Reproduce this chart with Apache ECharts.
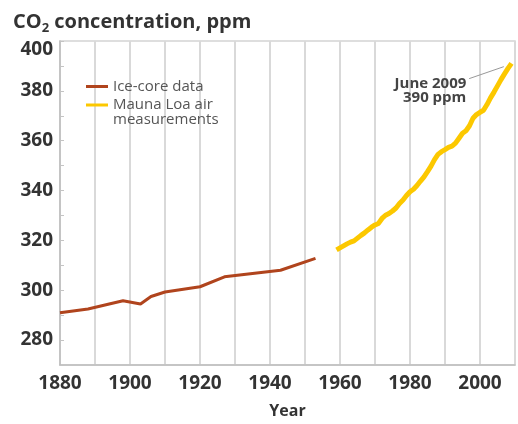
<!DOCTYPE html>
<html>
<head>
<meta charset="utf-8">
<script src="https://cdn.jsdelivr.net/npm/echarts@6/dist/echarts.min.js"></script>
<style>
  html, body { margin: 0; padding: 0; background: #fff; }
  #main { width: 518px; height: 424px; }
</style>
</head>
<body>
<div id="main"></div>
<script>
// ice-core record (year, ppm)
var iceYears = [1880, 1888, 1898, 1903, 1906, 1910, 1920, 1927, 1943, 1953];
var iceValues = [291.0, 292.5, 295.8, 294.5, 297.5, 299.3, 301.4, 305.4, 308.0, 312.8];

// Mauna Loa annual means
var mlYears = [1959, 1960, 1961, 1962, 1963, 1964, 1965, 1966, 1967, 1968,
  1969, 1970, 1971, 1972, 1973, 1974, 1975, 1976, 1977, 1978,
  1979, 1980, 1981, 1982, 1983, 1984, 1985, 1986, 1987, 1988,
  1989, 1990, 1991, 1992, 1993, 1994, 1995, 1996, 1997, 1998,
  1999, 2000, 2001, 2002, 2003, 2004, 2005, 2006, 2007, 2008, 2009];
var mlValues = [316.2, 317.0, 317.8, 318.6, 319.3, 319.8, 320.9, 322.0, 323.0, 324.2,
  325.3, 326.2, 326.8, 328.8, 330.1, 330.8, 331.8, 333.0, 334.8, 336.2,
  338.0, 339.5, 340.5, 342.0, 343.8, 345.5, 347.6, 349.8, 352.4, 354.5,
  355.6, 356.4, 357.3, 357.8, 359.0, 361.0, 363.0, 364.0, 366.0, 369.0,
  370.5, 371.4, 372.2, 374.5, 377.2, 379.5, 382.0, 384.5, 386.8, 389.0, 391.0];

var xTicks = [1880, 1900, 1920, 1940, 1960, 1980, 2000];
var yTicks = [280, 300, 320, 340, 360, 380, 400];

// callout leader line ends (year, ppm)
var calloutFrom = [1996.9, 384.9];
var calloutTo = [2006.8, 389.7];

function pairs(xs, ys) {
  return xs.map(function (x, i) { return [x, ys[i]]; });
}

var myChart = echarts.init(document.getElementById('main'));
var font = '"Open Sans", sans-serif';

var option = {
  animation: false,
  backgroundColor: '#fff',
  textStyle: { fontFamily: font },
  title: {
    left: 8,
    top: 4,
    text: '{a|CO}{s|2}{a| concentration, ppm}',
    textStyle: {
      rich: {
        a: { fontFamily: font, fontSize: 20, fontWeight: 'bold', color: '#333' },
        s: { fontFamily: font, fontSize: 13, fontWeight: 'bold', color: '#333', padding: [13, 0, 0, 0] }
      }
    }
  },
  legend: {
    orient: 'vertical',
    left: 86,
    top: 79,
    padding: 0,
    itemWidth: 22,
    itemHeight: 3,
    itemGap: -4,
    icon: 'rect',
    textStyle: {
      fontFamily: font, fontSize: 15, color: '#555', lineHeight: 15,
      rich: {
        m: { fontFamily: font, fontSize: 15, color: '#555', lineHeight: 29 },
        n: { fontFamily: font, fontSize: 15, color: '#555', lineHeight: 1 }
      }
    },
    formatter: function (name) {
      return name === 'Mauna Loa air measurements' ? '{m|Mauna Loa air}\n{n|measurements}' : name;
    },
    data: ['Ice-core data', 'Mauna Loa air measurements']
  },
  grid: {
    left: 60,
    top: 41,
    width: 461,
    height: 329,
    show: true,
    borderColor: '#d4d4d4',
    borderWidth: 1.5
  },
  xAxis: {
    type: 'value',
    min: 1880,
    max: 2010,
    interval: 10,
    name: 'Year',
    nameLocation: 'middle',
    nameGap: 38,
    nameTextStyle: { fontFamily: font, fontSize: 16, fontWeight: 'bold', color: '#333' },
    axisLine: { lineStyle: { color: '#bdbdbd', width: 1.5 } },
    axisTick: { show: false },
    axisLabel: {
      margin: 9,
      fontFamily: font, fontSize: 19, fontWeight: 'bold', color: '#333',
      formatter: function (v) { return xTicks.indexOf(v) >= 0 ? String(v) : ''; }
    },
    splitLine: { show: true, lineStyle: { color: '#d9d9d9', width: 2 } }
  },
  yAxis: {
    type: 'value',
    min: 270,
    max: 400,
    interval: 10,
    axisLine: { show: true, lineStyle: { color: '#bdbdbd', width: 1.5 } },
    axisTick: { show: true, inside: true, length: 4, lineStyle: { color: '#c4c4c4' } },
    axisLabel: {
      margin: 7,
      fontFamily: font, fontSize: 19, fontWeight: 'bold', color: '#333',
      formatter: function (v) {
        if (v === 400) return '{top|400}';
        return yTicks.indexOf(v) >= 0 ? String(v) : '';
      },
      rich: {
        top: { fontFamily: font, fontSize: 19, fontWeight: 'bold', color: '#333', padding: [18, 0, 0, 0] }
      }
    },
    splitLine: { show: false }
  },
  series: [
    {
      name: 'Ice-core data',
      type: 'line',
      symbol: 'none',
      color: '#b0441d',
      lineStyle: { width: 3, color: '#b0441d' },
      data: pairs(iceYears, iceValues)
    },
    {
      name: 'Mauna Loa air measurements',
      type: 'line',
      symbol: 'none',
      color: '#fcc800',
      lineStyle: { width: 5, color: '#fcc800' },
      data: pairs(mlYears, mlValues),
      markLine: {
        silent: true,
        symbol: 'none',
        lineStyle: { color: '#999', width: 1, type: 'solid' },
        label: {
          show: true,
          position: 'start',
          align: 'right',
          verticalAlign: 'top',
          distance: 3,
          formatter: '{p|June 2009}\n{q|390 ppm}',
          rich: {
            p: { fontFamily: font, fontSize: 15, fontWeight: 'bold', color: '#444', lineHeight: 8 },
            q: { fontFamily: font, fontSize: 15, fontWeight: 'bold', color: '#444', lineHeight: 20 }
          }
        },
        data: [[{ coord: calloutFrom }, { coord: calloutTo }]]
      }
    }
  ]
};

myChart.setOption(option);
</script>
</body>
</html>
